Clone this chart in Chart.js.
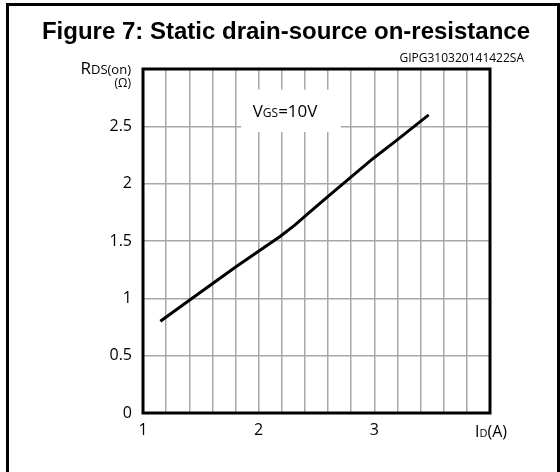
<!DOCTYPE html>
<html>
<head>
<meta charset="utf-8">
<title>Figure 7: Static drain-source on-resistance</title>
<script src="https://cdn.jsdelivr.net/npm/chart.js@4.4.1/dist/chart.umd.min.js"></script>
<style>
  html, body { margin: 0; padding: 0; background: #fff; }
  #wrap { width: 560px; height: 472px; }
</style>
</head>
<body>
<div id="wrap"><canvas id="rdsChart" width="560" height="472"></canvas></div>
<script>
// Dados (ID em A, RDS(on) em ohm)
const currentA = [1.15, 1.41, 1.81, 2.185, 2.315, 2.416, 2.59, 2.79, 2.99, 3.195, 3.47];
const rdsOn = [0.80, 0.99, 1.28, 1.54, 1.64, 1.73, 1.88, 2.05, 2.22, 2.38, 2.60];

const xTickLabels = ['1', '2', '3'];
const yTickLabels = ['0', '0.5', '1', '1.5', '2', '2.5'];

const figureTitle = 'Figure 7: Static drain-source on-resistance';
const figureCode = 'GIPG310320141422SA';

const labelFont = '"Open Sans", "DejaVu Sans", sans-serif';

// desenha texto com subscrito (partes com tamanhos diferentes)
function drawParts(ctx, parts, x, y, align) {
  var total = 0;
  parts.forEach(function(p) {
    ctx.font = p.size + 'px ' + labelFont;
    p.w = ctx.measureText(p.t).width;
    total += p.w;
  });
  var cx = align === 'right' ? x - total : (align === 'center' ? x - total / 2 : x);
  ctx.textAlign = 'left';
  ctx.textBaseline = 'alphabetic';
  parts.forEach(function(p) {
    ctx.font = p.size + 'px ' + labelFont;
    ctx.fillText(p.t, cx, y);
    cx += p.w;
  });
}

const figurePlugin = {
  id: 'figurePlugin',
  beforeDatasetsDraw: function(chart) {
    var ctx = chart.ctx;
    var xs = chart.scales.x, ys = chart.scales.y;
    // caixa branca da legenda VGS
    var l = xs.getPixelForValue(1.85), r = xs.getPixelForValue(2.71);
    var t = ys.getPixelForValue(2.82), b = ys.getPixelForValue(2.45);
    ctx.save();
    ctx.fillStyle = '#fff';
    ctx.fillRect(l, t, r - l, b - t);
    ctx.fillStyle = '#000';
    drawParts(ctx, [{t: 'V', size: 17}, {t: 'GS', size: 12}, {t: '=10V', size: 17}],
      (l + r) / 2 - 6, ys.getPixelForValue(2.58), 'center');
    ctx.restore();
  },
  afterDatasetsDraw: function(chart) {
    var ctx = chart.ctx, a = chart.chartArea;
    ctx.save();
    ctx.strokeStyle = '#000';
    ctx.lineWidth = 3;
    ctx.strokeRect(a.left, a.top, a.right - a.left, a.bottom - a.top);
    ctx.restore();
  },
  afterDraw: function(chart) {
    var ctx = chart.ctx;
    var xs = chart.scales.x;
    ctx.save();
    // moldura externa
    ctx.strokeStyle = '#000';
    ctx.lineWidth = 3;
    ctx.beginPath();
    ctx.moveTo(7.5, 472);
    ctx.lineTo(7.5, 4.5);
    ctx.lineTo(558.5, 4.5);
    ctx.lineTo(558.5, 472);
    ctx.stroke();

    // título
    ctx.fillStyle = '#000';
    ctx.font = 'bold 24px "Liberation Sans", Arial, sans-serif';
    ctx.textAlign = 'center';
    ctx.textBaseline = 'alphabetic';
    ctx.fillText(figureTitle, 286, 39);

    ctx.font = '12px ' + labelFont;
    ctx.textAlign = 'right';
    ctx.fillText(figureCode, 524, 62);

    // rótulo do eixo y
    drawParts(ctx, [{t: 'R', size: 17}, {t: 'DS(on)', size: 13}], 131, 74, 'right');
    drawParts(ctx, [{t: '(\u03a9)', size: 12}], 131, 87, 'right');

    // rótulo do eixo x
    drawParts(ctx, [{t: 'I', size: 16}, {t: 'D', size: 11}, {t: '(A)', size: 16}],
      xs.getPixelForValue(4) + 1, 437, 'center');
    ctx.restore();
  }
};

document.addEventListener('DOMContentLoaded', function() {
  var ctx = document.getElementById('rdsChart').getContext('2d');
  new Chart(ctx, {
    type: 'scatter',
    data: {
      datasets: [{
        label: 'VGS=10V',
        data: currentA.map(function(x, i) { return {x: x, y: rdsOn[i]}; }),
        showLine: true,
        borderColor: '#000',
        borderWidth: 3,
        pointRadius: 0,
        tension: 0,
        fill: false
      }]
    },
    options: {
      responsive: false,
      animation: false,
      layout: { padding: { top: 69, right: 70, left: 0, bottom: 0 } },
      plugins: {
        legend: { display: false },
        tooltip: { enabled: false }
      },
      scales: {
        x: {
          type: 'linear',
          min: 1,
          max: 4,
          afterFit: function(scale) { scale.height = 59; },
          border: { display: false },
          grid: { color: '#a8a8a8', lineWidth: 1.5, drawTicks: false },
          ticks: {
            stepSize: 0.2,
            autoSkip: false,
            maxRotation: 0,
            padding: 8,
            color: '#000',
            font: { family: labelFont, size: 16 },
            callback: function(v) {
              var n = Math.round(v);
              if (Math.abs(v - n) < 1e-6 && xTickLabels.indexOf(String(n)) >= 0) return String(n);
              return '';
            }
          }
        },
        y: {
          min: 0,
          max: 3,
          afterFit: function(scale) { scale.width = 143; },
          border: { display: false },
          grid: { color: '#a8a8a8', lineWidth: 1.5, drawTicks: false },
          ticks: {
            stepSize: 0.5,
            padding: 11,
            color: '#000',
            font: { family: labelFont, size: 16 },
            callback: function(v) {
              var s = String(Math.round(v * 10) / 10);
              return yTickLabels.indexOf(s) >= 0 ? s : '';
            }
          }
        }
      }
    },
    plugins: [figurePlugin]
  });
});
</script>
</body>
</html>
